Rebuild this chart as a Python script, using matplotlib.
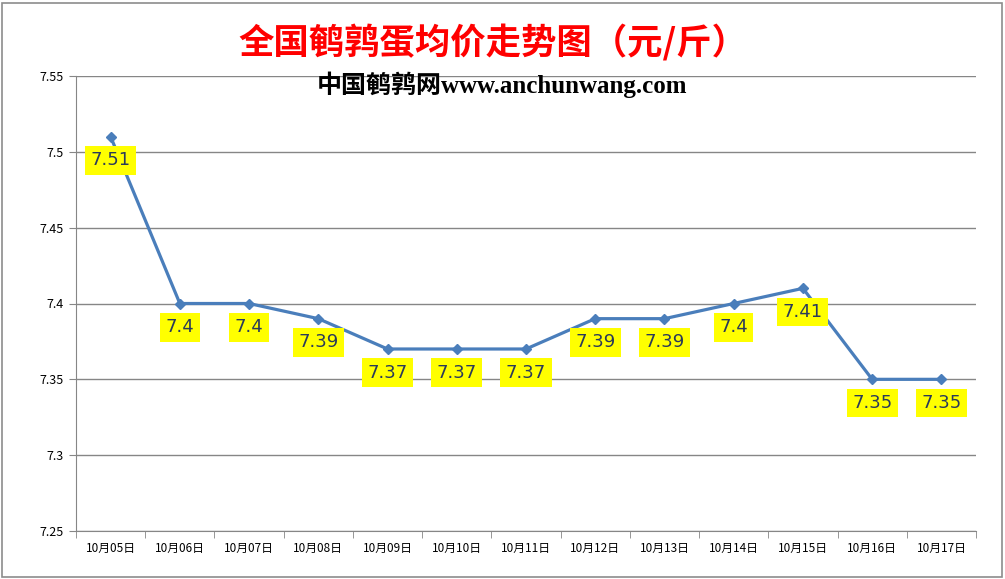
import matplotlib

matplotlib.use("Agg")

import matplotlib.pyplot as plt
from matplotlib.patches import Rectangle

plt.rcParams["font.family"] = ["Noto Sans CJK SC", "DejaVu Sans"]

dates = ["10月05日", "10月06日", "10月07日", "10月08日", "10月09日", "10月10日",
         "10月11日", "10月12日", "10月13日", "10月14日", "10月15日", "10月16日", "10月17日"]
prices = [7.51, 7.40, 7.40, 7.39, 7.37, 7.37, 7.37, 7.39, 7.39, 7.40, 7.41, 7.35, 7.35]
yticks = [7.25, 7.30, 7.35, 7.40, 7.45, 7.50, 7.55]
ytick_labels = ["7.25", "7.3", "7.35", "7.4", "7.45", "7.5", "7.55"]

W, H = 1005, 579
fig = plt.figure(figsize=(W / 100, H / 100), dpi=100)
fig.patches.append(Rectangle((1.5 / W, 2.5 / H), 1000 / W, 574 / H, transform=fig.transFigure,
                             fill=False, edgecolor="#8c8c8c", linewidth=1.2))

ax = fig.add_axes([76 / W, (H - 531) / H, 900 / W, 455 / H])
x = list(range(len(dates)))
ax.plot(x, prices, color="#4a7ebb", linewidth=2.3, marker="D", markersize=5.5,
        markerfacecolor="#4a7ebb", markeredgecolor="#4a7ebb", zorder=3)

for xi, v in zip(x, prices):
    ax.annotate(f"{v:g}", (xi, v), xytext=(0, -17), textcoords="offset points",
                ha="center", va="center", fontsize=13, color="#2a3a5a",
                family=["DejaVu Sans"],
                bbox=dict(boxstyle="square,pad=0.3", facecolor="#ffff00", edgecolor="none"),
                zorder=4)

ax.set_xlim(-0.5, len(dates) - 0.5)
ax.set_ylim(7.25, 7.55)
ax.set_yticks(yticks)
ax.set_yticklabels(ytick_labels, fontsize=9)
ax.set_xticks(x)
ax.set_xticklabels(dates, fontsize=8.5)
ax.set_xticks([i - 0.5 for i in range(len(dates) + 1)], minor=True)
ax.tick_params(axis="x", which="major", length=0, pad=8)
ax.tick_params(axis="x", which="minor", length=5, color="#868686")
ax.tick_params(axis="y", length=5, color="#868686", pad=4)
ax.grid(axis="y", color="#868686", linewidth=1)
ax.set_axisbelow(True)
for side in ["top", "right"]:
    ax.spines[side].set_visible(False)
for side in ["left", "bottom"]:
    ax.spines[side].set_color("#868686")

fig.text(493 / W, 1 - 43 / H, "全国鹌鹑蛋均价走势图（元/斤）", ha="center", va="center",
         fontsize=25.5, fontweight="bold", color="#ff0000")
fig.text(502 / W, 1 - 85 / H, "中国鹌鹑网www.anchunwang.com", ha="center", va="center",
         fontsize=18, fontweight="bold", color="black",
         family=["Liberation Serif", "Noto Sans CJK SC"])

fig.savefig("out.png", dpi=100)
